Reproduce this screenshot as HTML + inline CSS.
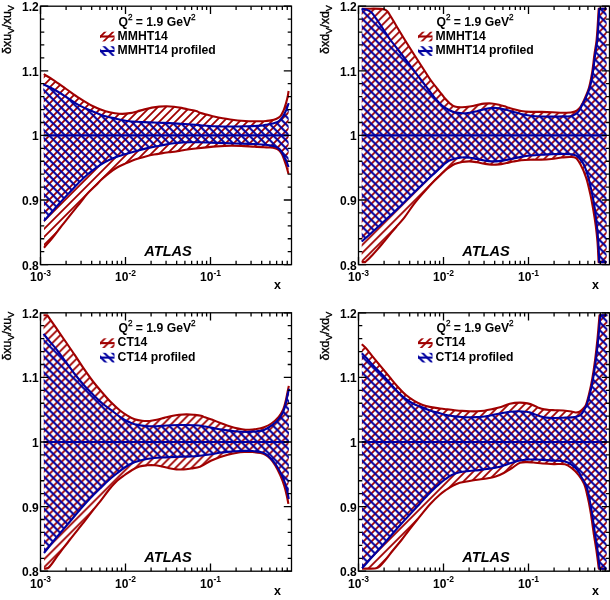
<!DOCTYPE html>
<html><head><meta charset="utf-8"><title>ATLAS PDF profiling</title><style>
html,body{margin:0;padding:0;background:#fff;}
body{width:610px;height:600px;overflow:hidden;}
svg{display:block;will-change:transform;}
text{font-family:"Liberation Sans",sans-serif;fill:#000;}
.tl{font-size:12px;font-weight:bold;}
.sup{font-size:8.5px;}
.sup2{font-size:8.2px;font-weight:normal;stroke:#000;stroke-width:0.3px;}
.lg{font-size:12.2px;font-weight:bold;}
.xt{font-size:12.5px;font-weight:bold;}
.yt{font-size:12.5px;stroke:#000;stroke-width:0.35px;}
.sub{font-size:9px;}
.atlas{font-size:14.6px;font-weight:bold;font-style:italic;}
</style></head><body>
<svg width="610" height="600" viewBox="0 0 610 600">
<rect width="610" height="600" fill="#fff"/>
<clipPath id="ca"><rect x="40.5" y="6.2" width="251" height="258.4"/></clipPath>
<pattern id="rha" patternUnits="userSpaceOnUse" width="8" height="8" x="1" y="0"><path d="M-2,2 L2,-2 M0,8 L8,0 M6,10 L10,6" stroke="#a00000" stroke-width="1.8"/></pattern>
<pattern id="bha" patternUnits="userSpaceOnUse" width="8" height="8" x="0" y="6.3"><path d="M-2,6 L2,10 M0,0 L8,8 M6,-2 L10,2" stroke="#0000a0" stroke-width="2.0"/></pattern>
<g clip-path="url(#ca)">
<path d="M43.75,74.20 C46.87,76.07 49.76,77.63 53.10,79.80 C57.14,82.43 61.83,85.93 66.20,89.00 C70.57,92.07 74.87,95.34 79.30,98.20 C83.64,101.00 88.02,103.79 92.50,106.00 C96.80,108.12 101.54,110.09 105.60,111.30 C108.94,112.30 112.04,112.75 115.00,113.17 C117.60,113.55 119.94,113.86 122.40,113.85 C124.84,113.84 127.27,113.52 129.70,113.12 C132.17,112.72 134.64,112.05 137.10,111.42 C139.57,110.80 142.03,110.01 144.50,109.38 C146.96,108.74 149.43,108.09 151.90,107.62 C154.33,107.16 156.75,106.80 159.20,106.58 C161.65,106.35 164.13,106.25 166.60,106.28 C169.07,106.30 171.54,106.46 174.00,106.73 C176.47,107.00 178.95,107.44 181.40,107.90 C183.85,108.36 186.26,108.98 188.70,109.50 C191.16,110.03 194.05,110.41 196.10,111.05 C197.63,111.53 198.47,112.15 200.00,112.68 C202.08,113.39 204.99,114.07 207.50,114.75 C210.02,115.44 212.57,116.18 215.10,116.78 C217.60,117.37 220.09,117.86 222.60,118.33 C225.12,118.79 227.67,119.19 230.20,119.55 C232.70,119.91 235.20,120.22 237.70,120.47 C240.20,120.72 242.69,120.91 245.20,121.05 C247.72,121.19 250.27,121.27 252.80,121.30 C255.31,121.33 257.97,121.30 260.30,121.22 C262.33,121.16 264.16,121.07 266.00,120.93 C267.72,120.78 269.35,120.70 271.00,120.38 C272.68,120.05 274.45,119.64 276.00,118.97 C277.51,118.33 279.01,117.71 280.20,116.50 C281.59,115.09 282.56,112.81 283.50,110.70 C284.52,108.41 285.28,105.64 286.00,103.20 C286.67,100.92 287.26,98.63 287.70,96.50 C288.10,94.59 288.30,92.83 288.60,91.00 L288.50,173.90 C287.87,171.60 287.30,169.29 286.60,167.00 C285.90,164.69 285.10,162.29 284.30,160.10 C283.56,158.07 282.96,156.02 282.00,154.30 C281.13,152.72 280.14,151.12 278.90,150.10 C277.77,149.18 276.43,148.71 275.00,148.28 C273.40,147.80 271.50,147.67 269.70,147.50 C267.84,147.33 265.99,147.38 264.00,147.28 C261.81,147.16 259.76,147.00 257.10,146.85 C253.47,146.64 248.49,146.35 244.20,146.17 C239.93,146.00 235.81,145.75 231.40,145.77 C226.67,145.81 221.87,146.06 216.70,146.42 C210.91,146.84 204.15,147.57 198.30,148.22 C192.96,148.83 187.09,149.54 183.00,150.18 C180.24,150.60 178.45,151.07 176.10,151.43 C173.68,151.79 171.16,152.00 168.70,152.33 C166.26,152.65 163.84,152.98 161.40,153.35 C158.94,153.73 156.46,154.11 154.00,154.57 C151.53,155.05 149.06,155.56 146.60,156.18 C144.12,156.80 141.65,157.53 139.20,158.30 C136.75,159.07 134.32,159.86 131.90,160.80 C129.42,161.76 126.96,162.89 124.50,164.00 C122.02,165.12 119.51,166.11 117.10,167.50 C114.57,168.96 112.11,170.75 109.70,172.60 C107.21,174.51 104.78,176.60 102.40,178.80 C99.94,181.06 97.64,183.57 95.20,186.00 C92.68,188.50 90.00,190.82 87.50,193.60 C84.79,196.61 82.25,200.22 79.60,203.50 C76.95,206.78 74.25,210.01 71.60,213.30 C68.95,216.61 65.84,220.59 63.70,223.30 C62.23,225.16 61.43,226.16 60.00,228.00 C57.97,230.61 55.28,234.30 52.70,237.50 C49.96,240.90 46.90,244.37 44.00,247.80 Z" fill="url(#rha)" stroke="none"/>
<path d="M43.75,74.20 C46.87,76.07 49.76,77.63 53.10,79.80 C57.14,82.43 61.83,85.93 66.20,89.00 C70.57,92.07 74.87,95.34 79.30,98.20 C83.64,101.00 88.02,103.79 92.50,106.00 C96.80,108.12 101.54,110.09 105.60,111.30 C108.94,112.30 112.04,112.75 115.00,113.17 C117.60,113.55 119.94,113.86 122.40,113.85 C124.84,113.84 127.27,113.52 129.70,113.12 C132.17,112.72 134.64,112.05 137.10,111.42 C139.57,110.80 142.03,110.01 144.50,109.38 C146.96,108.74 149.43,108.09 151.90,107.62 C154.33,107.16 156.75,106.80 159.20,106.58 C161.65,106.35 164.13,106.25 166.60,106.28 C169.07,106.30 171.54,106.46 174.00,106.73 C176.47,107.00 178.95,107.44 181.40,107.90 C183.85,108.36 186.26,108.98 188.70,109.50 C191.16,110.03 194.05,110.41 196.10,111.05 C197.63,111.53 198.47,112.15 200.00,112.68 C202.08,113.39 204.99,114.07 207.50,114.75 C210.02,115.44 212.57,116.18 215.10,116.78 C217.60,117.37 220.09,117.86 222.60,118.33 C225.12,118.79 227.67,119.19 230.20,119.55 C232.70,119.91 235.20,120.22 237.70,120.47 C240.20,120.72 242.69,120.91 245.20,121.05 C247.72,121.19 250.27,121.27 252.80,121.30 C255.31,121.33 257.97,121.30 260.30,121.22 C262.33,121.16 264.16,121.07 266.00,120.93 C267.72,120.78 269.35,120.70 271.00,120.38 C272.68,120.05 274.45,119.64 276.00,118.97 C277.51,118.33 279.01,117.71 280.20,116.50 C281.59,115.09 282.56,112.81 283.50,110.70 C284.52,108.41 285.28,105.64 286.00,103.20 C286.67,100.92 287.26,98.63 287.70,96.50 C288.10,94.59 288.30,92.83 288.60,91.00" fill="none" stroke="#a00000" stroke-width="2.1" stroke-linejoin="round"/>
<path d="M44.00,247.80 C46.90,244.37 49.96,240.90 52.70,237.50 C55.28,234.30 57.97,230.61 60.00,228.00 C61.43,226.16 62.23,225.16 63.70,223.30 C65.84,220.59 68.95,216.61 71.60,213.30 C74.25,210.01 76.95,206.78 79.60,203.50 C82.25,200.22 84.79,196.61 87.50,193.60 C90.00,190.82 92.68,188.50 95.20,186.00 C97.64,183.57 99.94,181.06 102.40,178.80 C104.78,176.60 107.21,174.51 109.70,172.60 C112.11,170.75 114.57,168.96 117.10,167.50 C119.51,166.11 122.02,165.12 124.50,164.00 C126.96,162.89 129.42,161.76 131.90,160.80 C134.32,159.86 136.75,159.07 139.20,158.30 C141.65,157.53 144.12,156.80 146.60,156.18 C149.06,155.56 151.53,155.05 154.00,154.57 C156.46,154.11 158.94,153.73 161.40,153.35 C163.84,152.98 166.26,152.65 168.70,152.33 C171.16,152.00 173.68,151.79 176.10,151.43 C178.45,151.07 180.24,150.60 183.00,150.18 C187.09,149.54 192.96,148.83 198.30,148.22 C204.15,147.57 210.91,146.84 216.70,146.42 C221.87,146.06 226.67,145.81 231.40,145.77 C235.81,145.75 239.93,146.00 244.20,146.17 C248.49,146.35 253.47,146.64 257.10,146.85 C259.76,147.00 261.81,147.16 264.00,147.28 C265.99,147.38 267.84,147.33 269.70,147.50 C271.50,147.67 273.40,147.80 275.00,148.28 C276.43,148.71 277.77,149.18 278.90,150.10 C280.14,151.12 281.13,152.72 282.00,154.30 C282.96,156.02 283.56,158.07 284.30,160.10 C285.10,162.29 285.90,164.69 286.60,167.00 C287.30,169.29 287.87,171.60 288.50,173.90" fill="none" stroke="#a00000" stroke-width="2.1" stroke-linejoin="round"/>
<path d="M43.25,84.20 C46.53,85.80 49.63,87.11 53.10,89.00 C57.20,91.23 61.86,94.18 66.20,96.90 C70.59,99.65 74.83,102.97 79.30,105.40 C83.60,107.74 88.08,109.47 92.50,111.30 C96.85,113.10 101.55,115.08 105.60,116.30 C108.95,117.31 112.05,117.75 115.00,118.40 C117.61,118.98 119.94,119.55 122.40,120.02 C124.84,120.50 126.83,120.92 129.70,121.25 C133.76,121.71 139.57,121.90 144.50,122.15 C149.41,122.40 154.29,122.55 159.20,122.75 C164.13,122.95 169.08,123.11 174.00,123.38 C178.91,123.64 183.92,123.97 188.70,124.32 C193.25,124.66 197.58,125.12 202.00,125.45 C206.38,125.77 210.58,126.09 215.10,126.27 C219.95,126.47 225.18,126.55 230.20,126.55 C235.21,126.55 240.19,126.43 245.20,126.28 C250.23,126.12 256.48,125.99 260.30,125.60 C262.66,125.36 264.03,125.04 266.00,124.70 C268.15,124.33 270.64,123.98 272.70,123.47 C274.50,123.03 276.20,122.76 277.70,121.90 C279.24,121.02 280.60,119.69 281.80,118.20 C283.14,116.55 284.27,114.22 285.20,112.30 C286.03,110.59 286.59,108.89 287.20,107.30 C287.75,105.87 288.20,104.57 288.70,103.20 L288.50,167.00 C287.87,165.20 287.32,163.31 286.60,161.60 C285.91,159.98 285.07,158.53 284.30,157.00 C283.53,155.47 282.91,153.81 282.00,152.40 C281.11,151.02 280.11,149.57 278.90,148.60 C277.76,147.68 276.43,147.15 275.00,146.62 C273.40,146.04 271.64,145.70 269.70,145.38 C267.38,144.99 264.64,144.83 262.00,144.60 C259.21,144.35 256.81,144.13 253.40,143.95 C248.42,143.69 241.12,143.61 235.00,143.43 C228.89,143.24 222.81,143.04 216.70,142.85 C210.58,142.66 204.15,142.38 198.30,142.30 C192.97,142.23 187.09,142.14 183.00,142.35 C180.24,142.49 178.44,142.77 176.10,143.05 C173.67,143.34 171.15,143.64 168.70,144.05 C166.25,144.46 164.11,144.98 161.40,145.50 C158.02,146.15 153.87,146.76 150.00,147.60 C145.92,148.48 141.66,149.59 137.50,150.70 C133.32,151.82 128.92,153.09 125.00,154.30 C121.47,155.39 118.30,156.30 115.00,157.60 C111.63,158.93 108.27,160.41 105.00,162.20 C101.60,164.06 98.05,166.43 95.00,168.60 C92.27,170.54 89.96,172.39 87.50,174.50 C84.95,176.68 82.64,178.89 80.00,181.50 C76.86,184.61 73.33,188.48 70.00,192.00 C66.66,195.54 63.13,199.27 60.00,202.70 C57.16,205.81 54.66,208.68 52.00,211.70 C49.33,214.74 46.67,217.83 44.00,220.90 Z" fill="url(#bha)" stroke="none"/>
<path d="M43.25,84.20 C46.53,85.80 49.63,87.11 53.10,89.00 C57.20,91.23 61.86,94.18 66.20,96.90 C70.59,99.65 74.83,102.97 79.30,105.40 C83.60,107.74 88.08,109.47 92.50,111.30 C96.85,113.10 101.55,115.08 105.60,116.30 C108.95,117.31 112.05,117.75 115.00,118.40 C117.61,118.98 119.94,119.55 122.40,120.02 C124.84,120.50 126.83,120.92 129.70,121.25 C133.76,121.71 139.57,121.90 144.50,122.15 C149.41,122.40 154.29,122.55 159.20,122.75 C164.13,122.95 169.08,123.11 174.00,123.38 C178.91,123.64 183.92,123.97 188.70,124.32 C193.25,124.66 197.58,125.12 202.00,125.45 C206.38,125.77 210.58,126.09 215.10,126.27 C219.95,126.47 225.18,126.55 230.20,126.55 C235.21,126.55 240.19,126.43 245.20,126.28 C250.23,126.12 256.48,125.99 260.30,125.60 C262.66,125.36 264.03,125.04 266.00,124.70 C268.15,124.33 270.64,123.98 272.70,123.47 C274.50,123.03 276.20,122.76 277.70,121.90 C279.24,121.02 280.60,119.69 281.80,118.20 C283.14,116.55 284.27,114.22 285.20,112.30 C286.03,110.59 286.59,108.89 287.20,107.30 C287.75,105.87 288.20,104.57 288.70,103.20" fill="none" stroke="#0000a0" stroke-width="2.1" stroke-linejoin="round"/>
<path d="M44.00,220.90 C46.67,217.83 49.33,214.74 52.00,211.70 C54.66,208.68 57.16,205.81 60.00,202.70 C63.13,199.27 66.66,195.54 70.00,192.00 C73.33,188.48 76.86,184.61 80.00,181.50 C82.64,178.89 84.95,176.68 87.50,174.50 C89.96,172.39 92.27,170.54 95.00,168.60 C98.05,166.43 101.60,164.06 105.00,162.20 C108.27,160.41 111.63,158.93 115.00,157.60 C118.30,156.30 121.47,155.39 125.00,154.30 C128.92,153.09 133.32,151.82 137.50,150.70 C141.66,149.59 145.92,148.48 150.00,147.60 C153.87,146.76 158.02,146.15 161.40,145.50 C164.11,144.98 166.25,144.46 168.70,144.05 C171.15,143.64 173.67,143.34 176.10,143.05 C178.44,142.77 180.24,142.49 183.00,142.35 C187.09,142.14 192.97,142.23 198.30,142.30 C204.15,142.38 210.58,142.66 216.70,142.85 C222.81,143.04 228.89,143.24 235.00,143.43 C241.12,143.61 248.42,143.69 253.40,143.95 C256.81,144.13 259.21,144.35 262.00,144.60 C264.64,144.83 267.38,144.99 269.70,145.38 C271.64,145.70 273.40,146.04 275.00,146.62 C276.43,147.15 277.76,147.68 278.90,148.60 C280.11,149.57 281.11,151.02 282.00,152.40 C282.91,153.81 283.53,155.47 284.30,157.00 C285.07,158.53 285.91,159.98 286.60,161.60 C287.32,163.31 287.87,165.20 288.50,167.00" fill="none" stroke="#0000a0" stroke-width="2.1" stroke-linejoin="round"/>
<line x1="43.75" y1="135.4" x2="288.6" y2="135.4" stroke="#0000a0" stroke-width="2.1"/>
</g>
<path d="M40.5,264.6 h7.7 M291.5,264.6 h-7.7 M40.5,251.68 h3.8 M291.5,251.68 h-3.8 M40.5,238.76 h3.8 M291.5,238.76 h-3.8 M40.5,225.84 h3.8 M291.5,225.84 h-3.8 M40.5,212.92 h3.8 M291.5,212.92 h-3.8 M40.5,200 h7.7 M291.5,200 h-7.7 M40.5,187.08 h3.8 M291.5,187.08 h-3.8 M40.5,174.16 h3.8 M291.5,174.16 h-3.8 M40.5,161.24 h3.8 M291.5,161.24 h-3.8 M40.5,148.32 h3.8 M291.5,148.32 h-3.8 M40.5,135.4 h7.7 M291.5,135.4 h-7.7 M40.5,122.48 h3.8 M291.5,122.48 h-3.8 M40.5,109.56 h3.8 M291.5,109.56 h-3.8 M40.5,96.64 h3.8 M291.5,96.64 h-3.8 M40.5,83.72 h3.8 M291.5,83.72 h-3.8 M40.5,70.8 h7.7 M291.5,70.8 h-7.7 M40.5,57.88 h3.8 M291.5,57.88 h-3.8 M40.5,44.96 h3.8 M291.5,44.96 h-3.8 M40.5,32.04 h3.8 M291.5,32.04 h-3.8 M40.5,19.12 h3.8 M291.5,19.12 h-3.8 M40.5,6.2 h7.7 M291.5,6.2 h-7.7 M40.5,264.6 v-7.7 M40.5,6.2 v7.7 M66.09,264.6 v-3.8 M66.09,6.2 v3.8 M81.06,264.6 v-3.8 M81.06,6.2 v3.8 M91.68,264.6 v-3.8 M91.68,6.2 v3.8 M99.91,264.6 v-3.8 M99.91,6.2 v3.8 M106.64,264.6 v-3.8 M106.64,6.2 v3.8 M112.33,264.6 v-3.8 M112.33,6.2 v3.8 M117.26,264.6 v-3.8 M117.26,6.2 v3.8 M121.61,264.6 v-3.8 M121.61,6.2 v3.8 M125.5,264.6 v-7.7 M125.5,6.2 v7.7 M151.09,264.6 v-3.8 M151.09,6.2 v3.8 M166.06,264.6 v-3.8 M166.06,6.2 v3.8 M176.68,264.6 v-3.8 M176.68,6.2 v3.8 M184.91,264.6 v-3.8 M184.91,6.2 v3.8 M191.64,264.6 v-3.8 M191.64,6.2 v3.8 M197.33,264.6 v-3.8 M197.33,6.2 v3.8 M202.26,264.6 v-3.8 M202.26,6.2 v3.8 M206.61,264.6 v-3.8 M206.61,6.2 v3.8 M210.5,264.6 v-7.7 M210.5,6.2 v7.7 M236.09,264.6 v-3.8 M236.09,6.2 v3.8 M251.06,264.6 v-3.8 M251.06,6.2 v3.8 M261.68,264.6 v-3.8 M261.68,6.2 v3.8 M269.91,264.6 v-3.8 M269.91,6.2 v3.8 M276.64,264.6 v-3.8 M276.64,6.2 v3.8 M282.33,264.6 v-3.8 M282.33,6.2 v3.8 M287.26,264.6 v-3.8 M287.26,6.2 v3.8" stroke="#000" stroke-width="1.3" fill="none"/>
<rect x="40.5" y="6.2" width="251" height="258.4" fill="none" stroke="#000" stroke-width="1.3"/>
<text x="38.7" y="269.5" class="tl" text-anchor="end">0.8</text>
<text x="38.7" y="204.9" class="tl" text-anchor="end">0.9</text>
<text x="38.7" y="140.3" class="tl" text-anchor="end">1</text>
<text x="38.7" y="75.7" class="tl" text-anchor="end">1.1</text>
<text x="38.7" y="11.1" class="tl" text-anchor="end">1.2</text>
<text x="40.5" y="281.1" class="tl" text-anchor="middle">10<tspan class="sup" dy="-5.5">-3</tspan></text>
<text x="125.5" y="281.1" class="tl" text-anchor="middle">10<tspan class="sup" dy="-5.5">-2</tspan></text>
<text x="210.5" y="281.1" class="tl" text-anchor="middle">10<tspan class="sup" dy="-5.5">-1</tspan></text>
<text x="274" y="288.8" class="xt">x</text>
<text class="yt" transform="translate(10.6,54) rotate(-90)">&#948;xu<tspan class="sub" dy="3.2">V</tspan><tspan dy="-3.2">/xu</tspan><tspan class="sub" dy="3.2">V</tspan></text>
<text x="118.4" y="25.6" class="lg">Q<tspan class="sup2" dy="-5.9">2</tspan><tspan dy="5.9"> = 1.9 GeV</tspan><tspan class="sup2" dy="-5.9">2</tspan></text>
<text x="117.6" y="39.6" class="lg">MMHT14</text>
<text x="117.6" y="54" class="lg">MMHT14 profiled</text>
<clipPath id="lra"><rect x="100" y="31.7" width="14.5" height="9.7"/></clipPath>
<rect x="100" y="31.7" width="14.5" height="9.7" fill="url(#rha)" />
<line x1="100" y1="36.5" x2="114.5" y2="36.5" stroke="#a00000" stroke-width="2.1"/>
<rect x="100" y="46.2" width="14.5" height="9.7" fill="url(#bha)" />
<line x1="100" y1="51" x2="114.5" y2="51" stroke="#0000a0" stroke-width="2.1"/>
<text x="144.3" y="255.7" class="atlas">ATLAS</text>
<clipPath id="cb"><rect x="358.5" y="6.2" width="251" height="258.4"/></clipPath>
<pattern id="rhb" patternUnits="userSpaceOnUse" width="8" height="8" x="7.2" y="0"><path d="M-2,2 L2,-2 M0,8 L8,0 M6,10 L10,6" stroke="#a00000" stroke-width="1.8"/></pattern>
<pattern id="bhb" patternUnits="userSpaceOnUse" width="8" height="8" x="0" y="0.5"><path d="M-2,6 L2,10 M0,0 L8,8 M6,-2 L10,2" stroke="#0000a0" stroke-width="2.0"/></pattern>
<g clip-path="url(#cb)">
<path d="M361.70,8.70 C369.30,8.93 380.54,8.09 384.50,9.40 C386.09,9.93 386.62,10.59 387.50,11.50 C388.48,12.51 389.15,13.96 390.00,15.30 C390.94,16.78 391.77,18.13 392.90,20.00 C394.53,22.70 396.80,26.67 398.80,30.00 C400.80,33.34 402.84,36.67 404.90,40.00 C406.97,43.34 409.09,46.67 411.20,50.00 C413.32,53.34 415.45,56.67 417.60,60.00 C419.75,63.34 421.93,66.67 424.10,70.00 C426.27,73.33 428.34,76.80 430.60,80.00 C432.81,83.12 435.50,86.45 437.50,89.00 C439.00,90.92 440.26,92.42 441.50,94.00 C442.60,95.40 443.38,96.60 444.60,98.00 C446.11,99.73 448.18,102.00 450.00,103.50 C451.55,104.78 452.86,105.97 454.70,106.60 C456.81,107.33 459.63,107.20 462.10,107.20 C464.57,107.20 467.04,106.93 469.50,106.58 C471.98,106.21 474.44,105.51 476.90,105.03 C479.34,104.54 481.75,103.92 484.20,103.65 C486.65,103.38 489.14,103.26 491.60,103.43 C494.07,103.59 496.55,104.08 499.00,104.65 C501.49,105.23 503.95,106.12 506.40,106.90 C508.85,107.67 511.24,108.60 513.70,109.30 C516.14,109.99 518.45,110.65 521.10,111.08 C524.10,111.55 527.47,111.71 530.80,111.85 C534.32,112.00 538.08,111.85 541.70,111.92 C545.31,112.00 548.90,112.13 552.50,112.28 C556.10,112.42 559.89,112.79 563.30,112.77 C566.36,112.76 569.57,112.77 572.00,112.30 C573.83,111.94 575.29,111.60 576.70,110.70 C578.22,109.73 579.47,108.23 580.70,106.50 C582.23,104.35 583.50,101.38 584.80,98.50 C586.25,95.27 587.76,91.80 588.90,88.00 C590.19,83.72 591.02,79.10 591.90,74.00 C592.94,67.95 593.65,60.07 594.50,54.00 C595.21,48.91 595.99,45.61 596.60,40.00 C597.50,31.65 598.00,19.13 598.70,8.70 L606.60,8.70 L606.60,262.10 L598.60,262.10 C598.23,255.40 598.01,248.31 597.50,242.00 C597.05,236.36 596.48,231.24 595.80,226.00 C595.14,220.91 594.37,216.10 593.50,211.00 C592.58,205.65 591.60,200.08 590.40,194.60 C589.18,189.02 587.91,182.94 586.20,177.80 C584.68,173.24 582.87,168.74 580.90,165.20 C579.30,162.33 577.74,159.19 575.70,157.90 C574.12,156.90 572.38,157.08 570.40,156.97 C567.93,156.84 564.95,157.23 562.00,157.53 C558.69,157.86 555.01,158.60 551.50,158.95 C548.01,159.30 544.50,159.53 541.00,159.65 C537.50,159.77 533.90,159.59 530.50,159.70 C527.28,159.81 524.04,159.95 521.10,160.27 C518.48,160.57 516.15,161.02 513.70,161.48 C511.25,161.93 508.84,162.51 506.40,163.00 C503.94,163.49 501.48,164.11 499.00,164.40 C496.54,164.68 494.06,164.83 491.60,164.73 C489.13,164.62 486.65,164.16 484.20,163.75 C481.75,163.34 479.35,162.65 476.90,162.25 C474.45,161.85 471.97,161.40 469.50,161.35 C467.04,161.30 464.55,161.54 462.10,161.97 C459.61,162.42 456.96,163.01 454.70,164.00 C452.55,164.95 450.59,166.42 448.80,167.70 C447.19,168.86 445.85,170.04 444.40,171.30 C442.91,172.60 441.62,173.87 440.00,175.40 C437.97,177.31 435.61,179.42 433.20,181.90 C430.22,184.96 426.77,188.85 423.60,192.50 C420.34,196.25 417.05,200.02 413.90,204.10 C410.61,208.37 407.48,213.55 404.30,217.60 C401.52,221.14 398.29,224.51 396.00,227.20 C394.36,229.13 393.38,230.30 391.80,232.20 C389.74,234.68 387.08,237.94 384.70,240.80 C382.31,243.67 379.93,246.62 377.50,249.40 C375.13,252.11 372.52,255.02 370.30,257.30 C368.51,259.13 366.97,260.50 365.30,262.10 L361.70,262.10 Z" fill="url(#rhb)" stroke="none"/>
<path d="M361.70,8.70 C369.30,8.93 380.54,8.09 384.50,9.40 C386.09,9.93 386.62,10.59 387.50,11.50 C388.48,12.51 389.15,13.96 390.00,15.30 C390.94,16.78 391.77,18.13 392.90,20.00 C394.53,22.70 396.80,26.67 398.80,30.00 C400.80,33.34 402.84,36.67 404.90,40.00 C406.97,43.34 409.09,46.67 411.20,50.00 C413.32,53.34 415.45,56.67 417.60,60.00 C419.75,63.34 421.93,66.67 424.10,70.00 C426.27,73.33 428.34,76.80 430.60,80.00 C432.81,83.12 435.50,86.45 437.50,89.00 C439.00,90.92 440.26,92.42 441.50,94.00 C442.60,95.40 443.38,96.60 444.60,98.00 C446.11,99.73 448.18,102.00 450.00,103.50 C451.55,104.78 452.86,105.97 454.70,106.60 C456.81,107.33 459.63,107.20 462.10,107.20 C464.57,107.20 467.04,106.93 469.50,106.58 C471.98,106.21 474.44,105.51 476.90,105.03 C479.34,104.54 481.75,103.92 484.20,103.65 C486.65,103.38 489.14,103.26 491.60,103.43 C494.07,103.59 496.55,104.08 499.00,104.65 C501.49,105.23 503.95,106.12 506.40,106.90 C508.85,107.67 511.24,108.60 513.70,109.30 C516.14,109.99 518.45,110.65 521.10,111.08 C524.10,111.55 527.47,111.71 530.80,111.85 C534.32,112.00 538.08,111.85 541.70,111.92 C545.31,112.00 548.90,112.13 552.50,112.28 C556.10,112.42 559.89,112.79 563.30,112.77 C566.36,112.76 569.57,112.77 572.00,112.30 C573.83,111.94 575.29,111.60 576.70,110.70 C578.22,109.73 579.47,108.23 580.70,106.50 C582.23,104.35 583.50,101.38 584.80,98.50 C586.25,95.27 587.76,91.80 588.90,88.00 C590.19,83.72 591.02,79.10 591.90,74.00 C592.94,67.95 593.65,60.07 594.50,54.00 C595.21,48.91 595.99,45.61 596.60,40.00 C597.50,31.65 598.00,19.13 598.70,8.70 L606.60,8.70" fill="none" stroke="#a00000" stroke-width="2.1" stroke-linejoin="round"/>
<path d="M361.70,262.10 L365.30,262.10 C366.97,260.50 368.51,259.13 370.30,257.30 C372.52,255.02 375.13,252.11 377.50,249.40 C379.93,246.62 382.31,243.67 384.70,240.80 C387.08,237.94 389.74,234.68 391.80,232.20 C393.38,230.30 394.36,229.13 396.00,227.20 C398.29,224.51 401.52,221.14 404.30,217.60 C407.48,213.55 410.61,208.37 413.90,204.10 C417.05,200.02 420.34,196.25 423.60,192.50 C426.77,188.85 430.22,184.96 433.20,181.90 C435.61,179.42 437.97,177.31 440.00,175.40 C441.62,173.87 442.91,172.60 444.40,171.30 C445.85,170.04 447.19,168.86 448.80,167.70 C450.59,166.42 452.55,164.95 454.70,164.00 C456.96,163.01 459.61,162.42 462.10,161.97 C464.55,161.54 467.04,161.30 469.50,161.35 C471.97,161.40 474.45,161.85 476.90,162.25 C479.35,162.65 481.75,163.34 484.20,163.75 C486.65,164.16 489.13,164.62 491.60,164.73 C494.06,164.83 496.54,164.68 499.00,164.40 C501.48,164.11 503.94,163.49 506.40,163.00 C508.84,162.51 511.25,161.93 513.70,161.48 C516.15,161.02 518.48,160.57 521.10,160.27 C524.04,159.95 527.28,159.81 530.50,159.70 C533.90,159.59 537.50,159.77 541.00,159.65 C544.50,159.53 548.01,159.30 551.50,158.95 C555.01,158.60 558.69,157.86 562.00,157.53 C564.95,157.23 567.93,156.84 570.40,156.97 C572.38,157.08 574.12,156.90 575.70,157.90 C577.74,159.19 579.30,162.33 580.90,165.20 C582.87,168.74 584.68,173.24 586.20,177.80 C587.91,182.94 589.18,189.02 590.40,194.60 C591.60,200.08 592.58,205.65 593.50,211.00 C594.37,216.10 595.14,220.91 595.80,226.00 C596.48,231.24 597.05,236.36 597.50,242.00 C598.01,248.31 598.23,255.40 598.60,262.10 L606.60,262.10" fill="none" stroke="#a00000" stroke-width="2.1" stroke-linejoin="round"/>
<path d="M361.70,8.70 C363.37,9.07 365.14,9.28 366.70,9.82 C368.17,10.34 369.53,10.80 370.80,11.80 C372.31,12.99 373.77,15.30 374.90,16.80 C375.78,17.96 376.17,18.63 377.10,20.00 C378.73,22.41 381.57,26.67 383.80,30.00 C386.03,33.33 388.12,36.71 390.50,40.00 C392.94,43.38 395.71,46.66 398.30,50.00 C400.88,53.33 403.46,56.66 406.00,60.00 C408.53,63.33 410.99,66.67 413.50,70.00 C416.02,73.34 418.62,76.76 421.10,80.00 C423.45,83.08 425.71,86.00 428.00,89.00 C430.28,92.00 432.41,95.20 434.80,98.00 C437.09,100.69 439.40,103.38 442.00,105.50 C444.48,107.52 447.64,109.30 450.00,110.50 C451.73,111.38 452.92,111.92 454.70,112.38 C456.86,112.93 459.63,113.24 462.10,113.30 C464.56,113.36 467.05,113.10 469.50,112.75 C471.98,112.39 474.45,111.73 476.90,111.15 C479.35,110.57 481.75,109.80 484.20,109.28 C486.65,108.75 489.12,108.17 491.60,108.00 C494.06,107.83 496.55,107.92 499.00,108.23 C501.48,108.53 503.95,109.24 506.40,109.85 C508.85,110.46 511.26,111.22 513.70,111.90 C516.16,112.59 518.45,113.35 521.10,113.95 C524.10,114.63 527.46,115.28 530.80,115.70 C534.32,116.14 538.07,116.35 541.70,116.50 C545.31,116.65 548.90,116.61 552.50,116.60 C556.10,116.59 559.90,116.56 563.30,116.42 C566.36,116.31 569.41,116.76 572.00,115.90 C574.45,115.08 576.82,113.42 578.50,111.60 C580.12,109.85 580.82,107.54 582.00,105.30 C583.32,102.81 584.74,100.19 586.00,97.30 C587.42,94.05 588.91,90.49 590.00,86.70 C591.20,82.54 591.88,78.23 592.70,73.30 C593.69,67.31 594.46,59.29 595.30,53.30 C595.99,48.41 596.72,45.38 597.30,40.00 C598.18,31.78 598.63,19.13 599.30,8.70 L606.60,8.70 L606.60,262.10 L599.30,262.10 C598.93,254.73 598.69,246.77 598.20,240.00 C597.79,234.23 597.29,229.37 596.70,224.00 C596.10,218.54 595.47,213.04 594.60,207.50 C593.71,201.84 592.64,196.06 591.40,190.40 C590.17,184.76 588.78,178.50 587.20,173.60 C585.92,169.64 584.85,166.15 583.00,163.10 C581.29,160.28 579.05,157.25 576.70,155.80 C574.77,154.61 572.67,154.56 570.40,154.22 C567.82,153.85 564.96,153.86 562.00,153.85 C558.70,153.84 555.00,154.11 551.50,154.25 C548.00,154.39 544.50,154.50 541.00,154.70 C537.50,154.90 533.90,155.10 530.50,155.47 C527.27,155.83 524.04,156.35 521.10,156.88 C518.48,157.34 516.16,157.92 513.70,158.43 C511.26,158.93 508.85,159.45 506.40,159.90 C503.95,160.35 501.47,160.86 499.00,161.10 C496.54,161.34 494.06,161.46 491.60,161.35 C489.13,161.24 486.65,160.85 484.20,160.45 C481.75,160.05 479.35,159.41 476.90,158.95 C474.45,158.49 471.98,157.92 469.50,157.68 C467.04,157.43 464.56,157.29 462.10,157.45 C459.63,157.61 457.00,158.05 454.70,158.65 C452.59,159.20 450.56,159.86 448.80,160.80 C447.16,161.67 445.82,162.80 444.40,164.00 C442.89,165.28 441.66,166.76 440.00,168.30 C437.96,170.20 435.40,172.33 433.00,174.50 C430.41,176.84 427.95,179.11 425.00,181.90 C421.28,185.42 416.65,189.92 412.50,194.00 C408.32,198.12 404.40,202.25 400.00,206.50 C395.27,211.07 390.01,215.87 385.00,220.50 C380.01,225.10 374.28,230.36 370.00,234.20 C366.84,237.03 364.47,239.07 361.70,241.50 Z" fill="url(#bhb)" stroke="none"/>
<path d="M361.70,8.70 C363.37,9.07 365.14,9.28 366.70,9.82 C368.17,10.34 369.53,10.80 370.80,11.80 C372.31,12.99 373.77,15.30 374.90,16.80 C375.78,17.96 376.17,18.63 377.10,20.00 C378.73,22.41 381.57,26.67 383.80,30.00 C386.03,33.33 388.12,36.71 390.50,40.00 C392.94,43.38 395.71,46.66 398.30,50.00 C400.88,53.33 403.46,56.66 406.00,60.00 C408.53,63.33 410.99,66.67 413.50,70.00 C416.02,73.34 418.62,76.76 421.10,80.00 C423.45,83.08 425.71,86.00 428.00,89.00 C430.28,92.00 432.41,95.20 434.80,98.00 C437.09,100.69 439.40,103.38 442.00,105.50 C444.48,107.52 447.64,109.30 450.00,110.50 C451.73,111.38 452.92,111.92 454.70,112.38 C456.86,112.93 459.63,113.24 462.10,113.30 C464.56,113.36 467.05,113.10 469.50,112.75 C471.98,112.39 474.45,111.73 476.90,111.15 C479.35,110.57 481.75,109.80 484.20,109.28 C486.65,108.75 489.12,108.17 491.60,108.00 C494.06,107.83 496.55,107.92 499.00,108.23 C501.48,108.53 503.95,109.24 506.40,109.85 C508.85,110.46 511.26,111.22 513.70,111.90 C516.16,112.59 518.45,113.35 521.10,113.95 C524.10,114.63 527.46,115.28 530.80,115.70 C534.32,116.14 538.07,116.35 541.70,116.50 C545.31,116.65 548.90,116.61 552.50,116.60 C556.10,116.59 559.90,116.56 563.30,116.42 C566.36,116.31 569.41,116.76 572.00,115.90 C574.45,115.08 576.82,113.42 578.50,111.60 C580.12,109.85 580.82,107.54 582.00,105.30 C583.32,102.81 584.74,100.19 586.00,97.30 C587.42,94.05 588.91,90.49 590.00,86.70 C591.20,82.54 591.88,78.23 592.70,73.30 C593.69,67.31 594.46,59.29 595.30,53.30 C595.99,48.41 596.72,45.38 597.30,40.00 C598.18,31.78 598.63,19.13 599.30,8.70 L606.60,8.70" fill="none" stroke="#0000a0" stroke-width="2.1" stroke-linejoin="round"/>
<path d="M361.70,241.50 C364.47,239.07 366.84,237.03 370.00,234.20 C374.28,230.36 380.01,225.10 385.00,220.50 C390.01,215.87 395.27,211.07 400.00,206.50 C404.40,202.25 408.32,198.12 412.50,194.00 C416.65,189.92 421.28,185.42 425.00,181.90 C427.95,179.11 430.41,176.84 433.00,174.50 C435.40,172.33 437.96,170.20 440.00,168.30 C441.66,166.76 442.89,165.28 444.40,164.00 C445.82,162.80 447.16,161.67 448.80,160.80 C450.56,159.86 452.59,159.20 454.70,158.65 C457.00,158.05 459.63,157.61 462.10,157.45 C464.56,157.29 467.04,157.43 469.50,157.68 C471.98,157.92 474.45,158.49 476.90,158.95 C479.35,159.41 481.75,160.05 484.20,160.45 C486.65,160.85 489.13,161.24 491.60,161.35 C494.06,161.46 496.54,161.34 499.00,161.10 C501.47,160.86 503.95,160.35 506.40,159.90 C508.85,159.45 511.26,158.93 513.70,158.43 C516.16,157.92 518.48,157.34 521.10,156.88 C524.04,156.35 527.27,155.83 530.50,155.47 C533.90,155.10 537.50,154.90 541.00,154.70 C544.50,154.50 548.00,154.39 551.50,154.25 C555.00,154.11 558.70,153.84 562.00,153.85 C564.96,153.86 567.82,153.85 570.40,154.22 C572.67,154.56 574.77,154.61 576.70,155.80 C579.05,157.25 581.29,160.28 583.00,163.10 C584.85,166.15 585.92,169.64 587.20,173.60 C588.78,178.50 590.17,184.76 591.40,190.40 C592.64,196.06 593.71,201.84 594.60,207.50 C595.47,213.04 596.10,218.54 596.70,224.00 C597.29,229.37 597.79,234.23 598.20,240.00 C598.69,246.77 598.93,254.73 599.30,262.10 L606.60,262.10" fill="none" stroke="#0000a0" stroke-width="2.1" stroke-linejoin="round"/>
<line x1="361.7" y1="135.4" x2="606.6" y2="135.4" stroke="#0000a0" stroke-width="2.1"/>
</g>
<path d="M358.5,264.6 h7.7 M609.5,264.6 h-7.7 M358.5,251.68 h3.8 M609.5,251.68 h-3.8 M358.5,238.76 h3.8 M609.5,238.76 h-3.8 M358.5,225.84 h3.8 M609.5,225.84 h-3.8 M358.5,212.92 h3.8 M609.5,212.92 h-3.8 M358.5,200 h7.7 M609.5,200 h-7.7 M358.5,187.08 h3.8 M609.5,187.08 h-3.8 M358.5,174.16 h3.8 M609.5,174.16 h-3.8 M358.5,161.24 h3.8 M609.5,161.24 h-3.8 M358.5,148.32 h3.8 M609.5,148.32 h-3.8 M358.5,135.4 h7.7 M609.5,135.4 h-7.7 M358.5,122.48 h3.8 M609.5,122.48 h-3.8 M358.5,109.56 h3.8 M609.5,109.56 h-3.8 M358.5,96.64 h3.8 M609.5,96.64 h-3.8 M358.5,83.72 h3.8 M609.5,83.72 h-3.8 M358.5,70.8 h7.7 M609.5,70.8 h-7.7 M358.5,57.88 h3.8 M609.5,57.88 h-3.8 M358.5,44.96 h3.8 M609.5,44.96 h-3.8 M358.5,32.04 h3.8 M609.5,32.04 h-3.8 M358.5,19.12 h3.8 M609.5,19.12 h-3.8 M358.5,6.2 h7.7 M609.5,6.2 h-7.7 M358.5,264.6 v-7.7 M358.5,6.2 v7.7 M384.09,264.6 v-3.8 M384.09,6.2 v3.8 M399.06,264.6 v-3.8 M399.06,6.2 v3.8 M409.68,264.6 v-3.8 M409.68,6.2 v3.8 M417.91,264.6 v-3.8 M417.91,6.2 v3.8 M424.64,264.6 v-3.8 M424.64,6.2 v3.8 M430.33,264.6 v-3.8 M430.33,6.2 v3.8 M435.26,264.6 v-3.8 M435.26,6.2 v3.8 M439.61,264.6 v-3.8 M439.61,6.2 v3.8 M443.5,264.6 v-7.7 M443.5,6.2 v7.7 M469.09,264.6 v-3.8 M469.09,6.2 v3.8 M484.06,264.6 v-3.8 M484.06,6.2 v3.8 M494.68,264.6 v-3.8 M494.68,6.2 v3.8 M502.91,264.6 v-3.8 M502.91,6.2 v3.8 M509.64,264.6 v-3.8 M509.64,6.2 v3.8 M515.33,264.6 v-3.8 M515.33,6.2 v3.8 M520.26,264.6 v-3.8 M520.26,6.2 v3.8 M524.61,264.6 v-3.8 M524.61,6.2 v3.8 M528.5,264.6 v-7.7 M528.5,6.2 v7.7 M554.09,264.6 v-3.8 M554.09,6.2 v3.8 M569.06,264.6 v-3.8 M569.06,6.2 v3.8 M579.68,264.6 v-3.8 M579.68,6.2 v3.8 M587.91,264.6 v-3.8 M587.91,6.2 v3.8 M594.64,264.6 v-3.8 M594.64,6.2 v3.8 M600.33,264.6 v-3.8 M600.33,6.2 v3.8 M605.26,264.6 v-3.8 M605.26,6.2 v3.8" stroke="#000" stroke-width="1.3" fill="none"/>
<rect x="358.5" y="6.2" width="251" height="258.4" fill="none" stroke="#000" stroke-width="1.3"/>
<text x="356.7" y="269.5" class="tl" text-anchor="end">0.8</text>
<text x="356.7" y="204.9" class="tl" text-anchor="end">0.9</text>
<text x="356.7" y="140.3" class="tl" text-anchor="end">1</text>
<text x="356.7" y="75.7" class="tl" text-anchor="end">1.1</text>
<text x="356.7" y="11.1" class="tl" text-anchor="end">1.2</text>
<text x="358.5" y="281.1" class="tl" text-anchor="middle">10<tspan class="sup" dy="-5.5">-3</tspan></text>
<text x="443.5" y="281.1" class="tl" text-anchor="middle">10<tspan class="sup" dy="-5.5">-2</tspan></text>
<text x="528.5" y="281.1" class="tl" text-anchor="middle">10<tspan class="sup" dy="-5.5">-1</tspan></text>
<text x="592" y="288.8" class="xt">x</text>
<text class="yt" transform="translate(328.6,54) rotate(-90)">&#948;xd<tspan class="sub" dy="3.2">V</tspan><tspan dy="-3.2">/xd</tspan><tspan class="sub" dy="3.2">V</tspan></text>
<text x="436.4" y="25.6" class="lg">Q<tspan class="sup2" dy="-5.9">2</tspan><tspan dy="5.9"> = 1.9 GeV</tspan><tspan class="sup2" dy="-5.9">2</tspan></text>
<text x="435.6" y="39.6" class="lg">MMHT14</text>
<text x="435.6" y="54" class="lg">MMHT14 profiled</text>
<clipPath id="lrb"><rect x="418" y="31.7" width="14.5" height="9.7"/></clipPath>
<rect x="418" y="31.7" width="14.5" height="9.7" fill="url(#rhb)" />
<line x1="418" y1="36.5" x2="432.5" y2="36.5" stroke="#a00000" stroke-width="2.1"/>
<rect x="418" y="46.2" width="14.5" height="9.7" fill="url(#bhb)" />
<line x1="418" y1="51" x2="432.5" y2="51" stroke="#0000a0" stroke-width="2.1"/>
<text x="462.3" y="255.7" class="atlas">ATLAS</text>
<clipPath id="cc"><rect x="40.5" y="312.8" width="251" height="258.4"/></clipPath>
<pattern id="rhc" patternUnits="userSpaceOnUse" width="8" height="8" x="3.4" y="0"><path d="M-2,2 L2,-2 M0,8 L8,0 M6,10 L10,6" stroke="#a00000" stroke-width="1.8"/></pattern>
<pattern id="bhc" patternUnits="userSpaceOnUse" width="8" height="8" x="0" y="0.6"><path d="M-2,6 L2,10 M0,0 L8,8 M6,-2 L10,2" stroke="#0000a0" stroke-width="2.0"/></pattern>
<g clip-path="url(#cc)">
<path d="M43.50,315.30 L47.40,315.30 C50.37,319.60 53.31,323.87 56.30,328.20 C59.34,332.60 62.44,337.06 65.50,341.50 C68.57,345.96 71.66,350.39 74.70,354.90 C77.76,359.45 80.71,364.22 83.80,368.70 C86.82,373.08 89.86,377.45 93.00,381.50 C96.00,385.36 99.11,388.94 102.20,392.50 C105.21,395.97 108.22,399.51 111.30,402.60 C114.16,405.47 117.14,408.23 120.00,410.50 C122.50,412.48 124.89,414.11 127.40,415.60 C129.79,417.02 132.20,418.43 134.70,419.30 C137.10,420.14 139.62,420.53 142.10,420.80 C144.55,421.07 147.04,421.11 149.50,420.93 C151.97,420.74 154.45,420.21 156.90,419.70 C159.35,419.19 161.76,418.48 164.20,417.88 C166.66,417.27 169.12,416.58 171.60,416.07 C174.06,415.57 176.53,415.10 179.00,414.82 C181.46,414.55 183.94,414.41 186.40,414.40 C188.84,414.39 191.26,414.54 193.70,414.75 C196.16,414.96 199.06,415.13 201.10,415.68 C202.64,416.08 203.48,416.73 205.00,417.30 C207.06,418.08 209.96,418.89 212.40,419.80 C214.86,420.72 217.25,421.85 219.70,422.80 C222.15,423.75 224.62,424.70 227.10,425.52 C229.55,426.34 232.02,427.11 234.50,427.73 C236.95,428.33 239.43,428.86 241.90,429.20 C244.33,429.53 246.76,429.78 249.20,429.75 C251.66,429.72 254.15,429.45 256.60,429.03 C259.08,428.60 261.58,428.09 264.00,427.20 C266.52,426.27 269.05,425.11 271.40,423.50 C273.97,421.75 276.70,419.32 278.70,416.90 C280.58,414.63 282.00,412.26 283.20,409.50 C284.54,406.43 285.34,402.36 286.10,399.20 C286.74,396.54 287.13,394.13 287.60,391.80 C288.02,389.72 288.40,387.87 288.80,385.90 L288.40,503.90 C287.87,501.17 287.44,498.55 286.80,495.70 C286.10,492.57 285.35,489.21 284.30,485.90 C283.18,482.38 281.72,478.65 280.20,475.20 C278.71,471.82 277.07,468.26 275.30,465.40 C273.77,462.93 272.14,460.74 270.40,458.90 C268.85,457.27 267.23,455.79 265.50,454.80 C263.94,453.91 262.47,453.49 260.60,453.05 C258.24,452.49 255.14,452.22 252.40,452.05 C249.67,451.88 246.93,451.90 244.20,452.05 C241.46,452.20 238.72,452.51 236.00,452.95 C233.26,453.39 230.52,454.00 227.80,454.70 C225.05,455.41 222.31,456.24 219.60,457.20 C216.85,458.17 214.31,459.12 211.40,460.50 C207.86,462.18 203.67,465.49 200.00,466.80 C196.94,467.89 193.93,467.97 191.10,468.43 C188.52,468.83 186.16,469.27 183.70,469.42 C181.26,469.58 178.83,469.56 176.40,469.35 C173.93,469.14 171.46,468.64 169.00,468.15 C166.52,467.66 164.08,466.91 161.60,466.43 C159.14,465.94 156.67,465.41 154.20,465.22 C151.77,465.05 149.33,465.12 146.90,465.32 C144.43,465.54 141.91,465.75 139.50,466.50 C136.98,467.28 134.52,468.62 132.10,470.00 C129.58,471.44 127.14,473.26 124.70,475.00 C122.24,476.76 119.75,478.38 117.40,480.50 C114.83,482.82 112.58,485.44 110.00,488.50 C106.83,492.27 103.06,497.74 100.00,501.60 C97.52,504.73 95.46,507.01 93.10,510.00 C90.48,513.33 88.14,516.66 85.00,520.70 C80.79,526.11 74.47,533.79 70.00,539.50 C66.31,544.21 62.07,549.86 60.00,552.50 C59.09,553.66 58.91,553.84 58.00,555.00 C55.93,557.64 50.90,566.25 48.00,568.00 C46.56,568.87 45.33,568.47 44.00,568.70 Z" fill="url(#rhc)" stroke="none"/>
<path d="M43.50,315.30 L47.40,315.30 C50.37,319.60 53.31,323.87 56.30,328.20 C59.34,332.60 62.44,337.06 65.50,341.50 C68.57,345.96 71.66,350.39 74.70,354.90 C77.76,359.45 80.71,364.22 83.80,368.70 C86.82,373.08 89.86,377.45 93.00,381.50 C96.00,385.36 99.11,388.94 102.20,392.50 C105.21,395.97 108.22,399.51 111.30,402.60 C114.16,405.47 117.14,408.23 120.00,410.50 C122.50,412.48 124.89,414.11 127.40,415.60 C129.79,417.02 132.20,418.43 134.70,419.30 C137.10,420.14 139.62,420.53 142.10,420.80 C144.55,421.07 147.04,421.11 149.50,420.93 C151.97,420.74 154.45,420.21 156.90,419.70 C159.35,419.19 161.76,418.48 164.20,417.88 C166.66,417.27 169.12,416.58 171.60,416.07 C174.06,415.57 176.53,415.10 179.00,414.82 C181.46,414.55 183.94,414.41 186.40,414.40 C188.84,414.39 191.26,414.54 193.70,414.75 C196.16,414.96 199.06,415.13 201.10,415.68 C202.64,416.08 203.48,416.73 205.00,417.30 C207.06,418.08 209.96,418.89 212.40,419.80 C214.86,420.72 217.25,421.85 219.70,422.80 C222.15,423.75 224.62,424.70 227.10,425.52 C229.55,426.34 232.02,427.11 234.50,427.73 C236.95,428.33 239.43,428.86 241.90,429.20 C244.33,429.53 246.76,429.78 249.20,429.75 C251.66,429.72 254.15,429.45 256.60,429.03 C259.08,428.60 261.58,428.09 264.00,427.20 C266.52,426.27 269.05,425.11 271.40,423.50 C273.97,421.75 276.70,419.32 278.70,416.90 C280.58,414.63 282.00,412.26 283.20,409.50 C284.54,406.43 285.34,402.36 286.10,399.20 C286.74,396.54 287.13,394.13 287.60,391.80 C288.02,389.72 288.40,387.87 288.80,385.90" fill="none" stroke="#a00000" stroke-width="2.1" stroke-linejoin="round"/>
<path d="M44.00,568.70 C45.33,568.47 46.56,568.87 48.00,568.00 C50.90,566.25 55.93,557.64 58.00,555.00 C58.91,553.84 59.09,553.66 60.00,552.50 C62.07,549.86 66.31,544.21 70.00,539.50 C74.47,533.79 80.79,526.11 85.00,520.70 C88.14,516.66 90.48,513.33 93.10,510.00 C95.46,507.01 97.52,504.73 100.00,501.60 C103.06,497.74 106.83,492.27 110.00,488.50 C112.58,485.44 114.83,482.82 117.40,480.50 C119.75,478.38 122.24,476.76 124.70,475.00 C127.14,473.26 129.58,471.44 132.10,470.00 C134.52,468.62 136.98,467.28 139.50,466.50 C141.91,465.75 144.43,465.54 146.90,465.32 C149.33,465.12 151.77,465.05 154.20,465.22 C156.67,465.41 159.14,465.94 161.60,466.43 C164.08,466.91 166.52,467.66 169.00,468.15 C171.46,468.64 173.93,469.14 176.40,469.35 C178.83,469.56 181.26,469.58 183.70,469.42 C186.16,469.27 188.52,468.83 191.10,468.43 C193.93,467.97 196.94,467.89 200.00,466.80 C203.67,465.49 207.86,462.18 211.40,460.50 C214.31,459.12 216.85,458.17 219.60,457.20 C222.31,456.24 225.05,455.41 227.80,454.70 C230.52,454.00 233.26,453.39 236.00,452.95 C238.72,452.51 241.46,452.20 244.20,452.05 C246.93,451.90 249.67,451.88 252.40,452.05 C255.14,452.22 258.24,452.49 260.60,453.05 C262.47,453.49 263.94,453.91 265.50,454.80 C267.23,455.79 268.85,457.27 270.40,458.90 C272.14,460.74 273.77,462.93 275.30,465.40 C277.07,468.26 278.71,471.82 280.20,475.20 C281.72,478.65 283.18,482.38 284.30,485.90 C285.35,489.21 286.10,492.57 286.80,495.70 C287.44,498.55 287.87,501.17 288.40,503.90" fill="none" stroke="#a00000" stroke-width="2.1" stroke-linejoin="round"/>
<path d="M43.50,333.80 C45.33,336.07 47.02,338.21 49.00,340.60 C51.25,343.31 53.78,346.03 56.30,349.20 C59.24,352.89 62.44,357.38 65.50,361.50 C68.57,365.64 71.58,370.01 74.70,374.00 C77.69,377.83 80.69,381.53 83.80,385.00 C86.79,388.34 89.90,391.44 93.00,394.50 C96.03,397.50 99.07,400.53 102.20,403.20 C105.18,405.74 108.30,407.91 111.30,410.20 C114.23,412.44 117.17,414.87 120.00,416.80 C122.52,418.52 124.89,420.03 127.40,421.30 C129.79,422.51 132.22,423.58 134.70,424.30 C137.12,425.01 139.63,425.30 142.10,425.62 C144.56,425.95 147.03,426.16 149.50,426.25 C151.96,426.34 154.44,426.26 156.90,426.18 C159.34,426.09 161.76,425.88 164.20,425.73 C166.66,425.57 169.13,425.38 171.60,425.25 C174.07,425.13 176.53,425.02 179.00,424.98 C181.47,424.93 183.94,424.93 186.40,424.97 C188.84,425.02 191.26,425.11 193.70,425.23 C196.16,425.34 199.03,425.39 201.10,425.68 C202.62,425.89 203.49,426.22 205.00,426.52 C207.07,426.94 209.94,427.42 212.40,427.88 C214.84,428.33 217.25,428.86 219.70,429.27 C222.15,429.69 224.63,430.05 227.10,430.37 C229.56,430.70 232.03,430.99 234.50,431.23 C236.96,431.46 239.44,431.68 241.90,431.80 C244.34,431.92 246.76,432.01 249.20,431.92 C251.66,431.84 254.14,431.64 256.60,431.30 C259.08,430.96 261.60,430.78 264.00,429.90 C266.55,428.97 269.03,427.41 271.40,425.70 C273.95,423.86 276.70,421.52 278.70,419.10 C280.58,416.83 281.99,414.41 283.20,411.70 C284.50,408.78 285.34,405.11 286.10,402.10 C286.76,399.49 287.07,397.02 287.60,394.70 C288.08,392.62 288.60,390.77 289.10,388.80 L288.80,499.00 C288.13,495.73 287.59,492.30 286.80,489.20 C286.07,486.33 285.35,483.76 284.30,481.00 C283.18,478.03 281.72,474.89 280.20,472.00 C278.71,469.16 277.04,466.23 275.30,463.80 C273.75,461.63 272.11,459.70 270.40,458.00 C268.83,456.44 267.22,454.90 265.50,453.90 C263.94,452.99 262.47,452.53 260.60,452.08 C258.25,451.50 255.14,451.25 252.40,451.05 C249.67,450.85 246.93,450.85 244.20,450.88 C241.47,450.90 238.73,451.03 236.00,451.20 C233.26,451.37 230.53,451.60 227.80,451.88 C225.06,452.15 222.33,452.44 219.60,452.82 C216.86,453.21 214.36,453.76 211.40,454.20 C207.92,454.72 203.57,455.29 200.00,455.67 C196.85,456.01 193.93,456.26 191.10,456.43 C188.52,456.57 186.16,456.58 183.70,456.65 C181.26,456.72 178.84,456.78 176.40,456.85 C173.94,456.93 171.47,457.00 169.00,457.10 C166.53,457.20 164.07,457.32 161.60,457.48 C159.13,457.63 156.65,457.79 154.20,458.05 C151.75,458.31 149.33,458.58 146.90,459.02 C144.43,459.48 141.95,460.07 139.50,460.77 C137.02,461.49 134.52,462.21 132.10,463.30 C129.58,464.43 127.11,465.92 124.70,467.50 C122.20,469.14 119.90,471.03 117.40,473.00 C114.65,475.17 111.72,477.50 108.90,480.00 C105.92,482.64 103.04,485.53 100.00,488.50 C96.75,491.68 93.31,495.00 90.00,498.50 C86.54,502.15 83.05,506.14 79.70,510.00 C76.39,513.81 73.08,517.85 70.00,521.50 C67.20,524.82 64.63,527.88 62.00,531.00 C59.44,534.04 57.11,536.71 54.40,540.00 C51.18,543.92 47.47,548.67 44.00,553.00 Z" fill="url(#bhc)" stroke="none"/>
<path d="M43.50,333.80 C45.33,336.07 47.02,338.21 49.00,340.60 C51.25,343.31 53.78,346.03 56.30,349.20 C59.24,352.89 62.44,357.38 65.50,361.50 C68.57,365.64 71.58,370.01 74.70,374.00 C77.69,377.83 80.69,381.53 83.80,385.00 C86.79,388.34 89.90,391.44 93.00,394.50 C96.03,397.50 99.07,400.53 102.20,403.20 C105.18,405.74 108.30,407.91 111.30,410.20 C114.23,412.44 117.17,414.87 120.00,416.80 C122.52,418.52 124.89,420.03 127.40,421.30 C129.79,422.51 132.22,423.58 134.70,424.30 C137.12,425.01 139.63,425.30 142.10,425.62 C144.56,425.95 147.03,426.16 149.50,426.25 C151.96,426.34 154.44,426.26 156.90,426.18 C159.34,426.09 161.76,425.88 164.20,425.73 C166.66,425.57 169.13,425.38 171.60,425.25 C174.07,425.13 176.53,425.02 179.00,424.98 C181.47,424.93 183.94,424.93 186.40,424.97 C188.84,425.02 191.26,425.11 193.70,425.23 C196.16,425.34 199.03,425.39 201.10,425.68 C202.62,425.89 203.49,426.22 205.00,426.52 C207.07,426.94 209.94,427.42 212.40,427.88 C214.84,428.33 217.25,428.86 219.70,429.27 C222.15,429.69 224.63,430.05 227.10,430.37 C229.56,430.70 232.03,430.99 234.50,431.23 C236.96,431.46 239.44,431.68 241.90,431.80 C244.34,431.92 246.76,432.01 249.20,431.92 C251.66,431.84 254.14,431.64 256.60,431.30 C259.08,430.96 261.60,430.78 264.00,429.90 C266.55,428.97 269.03,427.41 271.40,425.70 C273.95,423.86 276.70,421.52 278.70,419.10 C280.58,416.83 281.99,414.41 283.20,411.70 C284.50,408.78 285.34,405.11 286.10,402.10 C286.76,399.49 287.07,397.02 287.60,394.70 C288.08,392.62 288.60,390.77 289.10,388.80" fill="none" stroke="#0000a0" stroke-width="2.1" stroke-linejoin="round"/>
<path d="M44.00,553.00 C47.47,548.67 51.18,543.92 54.40,540.00 C57.11,536.71 59.44,534.04 62.00,531.00 C64.63,527.88 67.20,524.82 70.00,521.50 C73.08,517.85 76.39,513.81 79.70,510.00 C83.05,506.14 86.54,502.15 90.00,498.50 C93.31,495.00 96.75,491.68 100.00,488.50 C103.04,485.53 105.92,482.64 108.90,480.00 C111.72,477.50 114.65,475.17 117.40,473.00 C119.90,471.03 122.20,469.14 124.70,467.50 C127.11,465.92 129.58,464.43 132.10,463.30 C134.52,462.21 137.02,461.49 139.50,460.77 C141.95,460.07 144.43,459.48 146.90,459.02 C149.33,458.58 151.75,458.31 154.20,458.05 C156.65,457.79 159.13,457.63 161.60,457.48 C164.07,457.32 166.53,457.20 169.00,457.10 C171.47,457.00 173.94,456.93 176.40,456.85 C178.84,456.78 181.26,456.72 183.70,456.65 C186.16,456.58 188.52,456.57 191.10,456.43 C193.93,456.26 196.85,456.01 200.00,455.67 C203.57,455.29 207.92,454.72 211.40,454.20 C214.36,453.76 216.86,453.21 219.60,452.82 C222.33,452.44 225.06,452.15 227.80,451.88 C230.53,451.60 233.26,451.37 236.00,451.20 C238.73,451.03 241.47,450.90 244.20,450.88 C246.93,450.85 249.67,450.85 252.40,451.05 C255.14,451.25 258.25,451.50 260.60,452.08 C262.47,452.53 263.94,452.99 265.50,453.90 C267.22,454.90 268.83,456.44 270.40,458.00 C272.11,459.70 273.75,461.63 275.30,463.80 C277.04,466.23 278.71,469.16 280.20,472.00 C281.72,474.89 283.18,478.03 284.30,481.00 C285.35,483.76 286.07,486.33 286.80,489.20 C287.59,492.30 288.13,495.73 288.80,499.00" fill="none" stroke="#0000a0" stroke-width="2.1" stroke-linejoin="round"/>
<line x1="43.5" y1="442" x2="288.8" y2="442" stroke="#0000a0" stroke-width="2.1"/>
</g>
<path d="M40.5,571.2 h7.7 M291.5,571.2 h-7.7 M40.5,558.28 h3.8 M291.5,558.28 h-3.8 M40.5,545.36 h3.8 M291.5,545.36 h-3.8 M40.5,532.44 h3.8 M291.5,532.44 h-3.8 M40.5,519.52 h3.8 M291.5,519.52 h-3.8 M40.5,506.6 h7.7 M291.5,506.6 h-7.7 M40.5,493.68 h3.8 M291.5,493.68 h-3.8 M40.5,480.76 h3.8 M291.5,480.76 h-3.8 M40.5,467.84 h3.8 M291.5,467.84 h-3.8 M40.5,454.92 h3.8 M291.5,454.92 h-3.8 M40.5,442 h7.7 M291.5,442 h-7.7 M40.5,429.08 h3.8 M291.5,429.08 h-3.8 M40.5,416.16 h3.8 M291.5,416.16 h-3.8 M40.5,403.24 h3.8 M291.5,403.24 h-3.8 M40.5,390.32 h3.8 M291.5,390.32 h-3.8 M40.5,377.4 h7.7 M291.5,377.4 h-7.7 M40.5,364.48 h3.8 M291.5,364.48 h-3.8 M40.5,351.56 h3.8 M291.5,351.56 h-3.8 M40.5,338.64 h3.8 M291.5,338.64 h-3.8 M40.5,325.72 h3.8 M291.5,325.72 h-3.8 M40.5,312.8 h7.7 M291.5,312.8 h-7.7 M40.5,571.2 v-7.7 M40.5,312.8 v7.7 M66.09,571.2 v-3.8 M66.09,312.8 v3.8 M81.06,571.2 v-3.8 M81.06,312.8 v3.8 M91.68,571.2 v-3.8 M91.68,312.8 v3.8 M99.91,571.2 v-3.8 M99.91,312.8 v3.8 M106.64,571.2 v-3.8 M106.64,312.8 v3.8 M112.33,571.2 v-3.8 M112.33,312.8 v3.8 M117.26,571.2 v-3.8 M117.26,312.8 v3.8 M121.61,571.2 v-3.8 M121.61,312.8 v3.8 M125.5,571.2 v-7.7 M125.5,312.8 v7.7 M151.09,571.2 v-3.8 M151.09,312.8 v3.8 M166.06,571.2 v-3.8 M166.06,312.8 v3.8 M176.68,571.2 v-3.8 M176.68,312.8 v3.8 M184.91,571.2 v-3.8 M184.91,312.8 v3.8 M191.64,571.2 v-3.8 M191.64,312.8 v3.8 M197.33,571.2 v-3.8 M197.33,312.8 v3.8 M202.26,571.2 v-3.8 M202.26,312.8 v3.8 M206.61,571.2 v-3.8 M206.61,312.8 v3.8 M210.5,571.2 v-7.7 M210.5,312.8 v7.7 M236.09,571.2 v-3.8 M236.09,312.8 v3.8 M251.06,571.2 v-3.8 M251.06,312.8 v3.8 M261.68,571.2 v-3.8 M261.68,312.8 v3.8 M269.91,571.2 v-3.8 M269.91,312.8 v3.8 M276.64,571.2 v-3.8 M276.64,312.8 v3.8 M282.33,571.2 v-3.8 M282.33,312.8 v3.8 M287.26,571.2 v-3.8 M287.26,312.8 v3.8" stroke="#000" stroke-width="1.3" fill="none"/>
<rect x="40.5" y="312.8" width="251" height="258.4" fill="none" stroke="#000" stroke-width="1.3"/>
<text x="38.7" y="576.1" class="tl" text-anchor="end">0.8</text>
<text x="38.7" y="511.5" class="tl" text-anchor="end">0.9</text>
<text x="38.7" y="446.9" class="tl" text-anchor="end">1</text>
<text x="38.7" y="382.3" class="tl" text-anchor="end">1.1</text>
<text x="38.7" y="317.7" class="tl" text-anchor="end">1.2</text>
<text x="40.5" y="587.7" class="tl" text-anchor="middle">10<tspan class="sup" dy="-5.5">-3</tspan></text>
<text x="125.5" y="587.7" class="tl" text-anchor="middle">10<tspan class="sup" dy="-5.5">-2</tspan></text>
<text x="210.5" y="587.7" class="tl" text-anchor="middle">10<tspan class="sup" dy="-5.5">-1</tspan></text>
<text x="274" y="595.4" class="xt">x</text>
<text class="yt" transform="translate(10.6,360.6) rotate(-90)">&#948;xu<tspan class="sub" dy="3.2">V</tspan><tspan dy="-3.2">/xu</tspan><tspan class="sub" dy="3.2">V</tspan></text>
<text x="118.4" y="332.2" class="lg">Q<tspan class="sup2" dy="-5.9">2</tspan><tspan dy="5.9"> = 1.9 GeV</tspan><tspan class="sup2" dy="-5.9">2</tspan></text>
<text x="117.6" y="346.2" class="lg">CT14</text>
<text x="117.6" y="360.6" class="lg">CT14 profiled</text>
<clipPath id="lrc"><rect x="100" y="338.3" width="14.5" height="9.7"/></clipPath>
<rect x="100" y="338.3" width="14.5" height="9.7" fill="url(#rhc)" />
<line x1="100" y1="343.1" x2="114.5" y2="343.1" stroke="#a00000" stroke-width="2.1"/>
<rect x="100" y="352.8" width="14.5" height="9.7" fill="url(#bhc)" />
<line x1="100" y1="357.6" x2="114.5" y2="357.6" stroke="#0000a0" stroke-width="2.1"/>
<text x="144.3" y="562.3" class="atlas">ATLAS</text>
<clipPath id="cd"><rect x="358.5" y="312.8" width="251" height="258.4"/></clipPath>
<pattern id="rhd" patternUnits="userSpaceOnUse" width="8" height="8" x="0.9" y="0"><path d="M-2,2 L2,-2 M0,8 L8,0 M6,10 L10,6" stroke="#a00000" stroke-width="1.8"/></pattern>
<pattern id="bhd" patternUnits="userSpaceOnUse" width="8" height="8" x="0" y="2.5"><path d="M-2,6 L2,10 M0,0 L8,8 M6,-2 L10,2" stroke="#0000a0" stroke-width="2.0"/></pattern>
<g clip-path="url(#cd)">
<path d="M361.80,344.20 C363.20,345.57 364.49,346.63 366.00,348.30 C368.04,350.55 370.33,353.79 372.70,356.70 C375.30,359.90 378.23,363.37 381.00,366.70 C383.77,370.03 386.52,373.37 389.30,376.70 C392.09,380.04 394.84,383.58 397.70,386.70 C400.41,389.66 403.12,392.59 406.00,395.00 C408.67,397.24 411.46,399.11 414.30,400.80 C417.03,402.43 419.85,403.93 422.70,405.00 C425.42,406.02 428.16,406.57 431.00,407.15 C433.92,407.75 437.14,408.14 440.00,408.52 C442.58,408.88 444.94,409.12 447.40,409.40 C449.84,409.67 452.26,409.93 454.70,410.17 C457.16,410.42 459.63,410.67 462.10,410.85 C464.57,411.03 467.03,411.20 469.50,411.27 C471.97,411.35 474.44,411.38 476.90,411.27 C479.34,411.17 481.77,411.00 484.20,410.67 C486.67,410.35 489.06,409.84 491.60,409.30 C494.32,408.72 497.12,408.16 500.00,407.30 C503.17,406.36 506.48,404.58 509.80,403.80 C513.05,403.04 516.59,402.66 519.70,402.62 C522.45,402.59 525.01,402.84 527.50,403.37 C529.90,403.89 532.32,404.86 534.40,405.70 C536.20,406.42 537.64,407.38 539.30,408.00 C540.91,408.60 542.55,409.04 544.20,409.38 C545.85,409.71 547.47,409.86 549.20,410.00 C551.06,410.15 552.90,410.13 555.00,410.20 C557.50,410.29 560.47,410.28 563.20,410.50 C565.94,410.72 569.14,411.12 571.40,411.52 C573.01,411.81 574.20,412.42 575.50,412.48 C576.65,412.53 577.79,412.41 578.80,412.03 C579.79,411.65 580.67,410.91 581.50,410.23 C582.34,409.54 583.09,408.71 583.80,407.90 C584.49,407.10 585.08,406.64 585.70,405.40 C586.98,402.85 588.33,396.90 589.40,392.60 C590.46,388.33 591.25,384.39 592.10,379.70 C593.11,374.14 594.03,367.92 594.90,361.40 C595.89,353.97 596.82,345.32 597.60,337.50 C598.35,329.97 598.87,322.70 599.50,315.30 L607.30,315.30 L606.60,568.70 L598.80,568.70 C598.13,563.47 597.58,558.48 596.80,553.00 C595.94,546.96 594.80,540.57 593.80,534.00 C592.73,526.94 591.75,518.70 590.60,512.00 C589.63,506.31 588.66,501.21 587.50,496.30 C586.46,491.90 585.72,487.60 584.10,483.90 C582.63,480.54 580.62,477.59 578.50,474.90 C576.49,472.35 574.18,469.91 571.80,468.10 C569.65,466.46 567.65,465.01 565.00,464.30 C561.82,463.45 557.54,464.26 553.80,464.12 C550.04,463.99 546.05,463.79 542.50,463.50 C539.33,463.24 536.28,462.78 533.50,462.55 C531.10,462.35 529.04,462.09 526.80,462.12 C524.54,462.17 522.26,462.01 520.00,462.80 C517.33,463.74 514.70,466.30 512.00,468.00 C509.30,469.70 506.59,471.57 503.80,473.00 C501.12,474.38 498.20,475.65 495.60,476.50 C493.37,477.23 491.58,477.55 489.20,478.00 C486.27,478.56 482.59,478.95 479.30,479.45 C476.02,479.94 472.76,480.43 469.50,480.98 C466.23,481.53 462.39,481.96 459.70,482.75 C457.72,483.33 456.32,484.06 454.70,484.82 C453.09,485.58 451.49,486.42 450.00,487.30 C448.56,488.15 447.37,488.96 445.90,490.00 C444.09,491.28 442.16,492.63 440.00,494.50 C437.03,497.07 433.45,500.55 430.00,504.30 C425.84,508.83 420.79,515.34 417.00,520.00 C413.99,523.69 411.60,526.65 409.00,530.00 C406.43,533.31 404.14,536.66 401.50,540.00 C398.75,543.49 395.60,547.02 392.80,550.50 C390.10,553.85 387.50,557.60 385.00,560.50 C382.93,562.90 380.76,565.52 379.00,566.80 C377.91,567.59 377.42,567.88 376.00,568.23 C373.09,568.93 366.67,568.54 362.00,568.70 Z" fill="url(#rhd)" stroke="none"/>
<path d="M361.80,344.20 C363.20,345.57 364.49,346.63 366.00,348.30 C368.04,350.55 370.33,353.79 372.70,356.70 C375.30,359.90 378.23,363.37 381.00,366.70 C383.77,370.03 386.52,373.37 389.30,376.70 C392.09,380.04 394.84,383.58 397.70,386.70 C400.41,389.66 403.12,392.59 406.00,395.00 C408.67,397.24 411.46,399.11 414.30,400.80 C417.03,402.43 419.85,403.93 422.70,405.00 C425.42,406.02 428.16,406.57 431.00,407.15 C433.92,407.75 437.14,408.14 440.00,408.52 C442.58,408.88 444.94,409.12 447.40,409.40 C449.84,409.67 452.26,409.93 454.70,410.17 C457.16,410.42 459.63,410.67 462.10,410.85 C464.57,411.03 467.03,411.20 469.50,411.27 C471.97,411.35 474.44,411.38 476.90,411.27 C479.34,411.17 481.77,411.00 484.20,410.67 C486.67,410.35 489.06,409.84 491.60,409.30 C494.32,408.72 497.12,408.16 500.00,407.30 C503.17,406.36 506.48,404.58 509.80,403.80 C513.05,403.04 516.59,402.66 519.70,402.62 C522.45,402.59 525.01,402.84 527.50,403.37 C529.90,403.89 532.32,404.86 534.40,405.70 C536.20,406.42 537.64,407.38 539.30,408.00 C540.91,408.60 542.55,409.04 544.20,409.38 C545.85,409.71 547.47,409.86 549.20,410.00 C551.06,410.15 552.90,410.13 555.00,410.20 C557.50,410.29 560.47,410.28 563.20,410.50 C565.94,410.72 569.14,411.12 571.40,411.52 C573.01,411.81 574.20,412.42 575.50,412.48 C576.65,412.53 577.79,412.41 578.80,412.03 C579.79,411.65 580.67,410.91 581.50,410.23 C582.34,409.54 583.09,408.71 583.80,407.90 C584.49,407.10 585.08,406.64 585.70,405.40 C586.98,402.85 588.33,396.90 589.40,392.60 C590.46,388.33 591.25,384.39 592.10,379.70 C593.11,374.14 594.03,367.92 594.90,361.40 C595.89,353.97 596.82,345.32 597.60,337.50 C598.35,329.97 598.87,322.70 599.50,315.30 L607.30,315.30" fill="none" stroke="#a00000" stroke-width="2.1" stroke-linejoin="round"/>
<path d="M362.00,568.70 C366.67,568.54 373.09,568.93 376.00,568.23 C377.42,567.88 377.91,567.59 379.00,566.80 C380.76,565.52 382.93,562.90 385.00,560.50 C387.50,557.60 390.10,553.85 392.80,550.50 C395.60,547.02 398.75,543.49 401.50,540.00 C404.14,536.66 406.43,533.31 409.00,530.00 C411.60,526.65 413.99,523.69 417.00,520.00 C420.79,515.34 425.84,508.83 430.00,504.30 C433.45,500.55 437.03,497.07 440.00,494.50 C442.16,492.63 444.09,491.28 445.90,490.00 C447.37,488.96 448.56,488.15 450.00,487.30 C451.49,486.42 453.09,485.58 454.70,484.82 C456.32,484.06 457.72,483.33 459.70,482.75 C462.39,481.96 466.23,481.53 469.50,480.98 C472.76,480.43 476.02,479.94 479.30,479.45 C482.59,478.95 486.27,478.56 489.20,478.00 C491.58,477.55 493.37,477.23 495.60,476.50 C498.20,475.65 501.12,474.38 503.80,473.00 C506.59,471.57 509.30,469.70 512.00,468.00 C514.70,466.30 517.33,463.74 520.00,462.80 C522.26,462.01 524.54,462.17 526.80,462.12 C529.04,462.09 531.10,462.35 533.50,462.55 C536.28,462.78 539.33,463.24 542.50,463.50 C546.05,463.79 550.04,463.99 553.80,464.12 C557.54,464.26 561.82,463.45 565.00,464.30 C567.65,465.01 569.65,466.46 571.80,468.10 C574.18,469.91 576.49,472.35 578.50,474.90 C580.62,477.59 582.63,480.54 584.10,483.90 C585.72,487.60 586.46,491.90 587.50,496.30 C588.66,501.21 589.63,506.31 590.60,512.00 C591.75,518.70 592.73,526.94 593.80,534.00 C594.80,540.57 595.94,546.96 596.80,553.00 C597.58,558.48 598.13,563.47 598.80,568.70 L606.60,568.70" fill="none" stroke="#a00000" stroke-width="2.1" stroke-linejoin="round"/>
<path d="M361.80,353.30 C363.20,354.70 364.46,355.87 366.00,357.50 C368.00,359.62 370.31,362.47 372.70,365.00 C375.28,367.73 378.27,370.43 381.00,373.30 C383.81,376.25 386.52,379.44 389.30,382.50 C392.09,385.57 394.84,388.85 397.70,391.70 C400.41,394.40 403.13,397.07 406.00,399.20 C408.67,401.18 411.46,402.80 414.30,404.20 C417.04,405.55 419.91,406.40 422.70,407.50 C425.48,408.60 428.15,409.83 431.00,410.80 C433.91,411.79 437.14,412.58 440.00,413.35 C442.58,414.04 444.93,414.72 447.40,415.23 C449.83,415.72 452.25,416.06 454.70,416.35 C457.15,416.64 459.63,416.80 462.10,416.95 C464.57,417.10 467.03,417.20 469.50,417.22 C471.97,417.25 474.44,417.23 476.90,417.10 C479.34,416.97 481.76,416.73 484.20,416.42 C486.66,416.12 489.06,415.72 491.60,415.25 C494.32,414.75 497.09,414.07 500.00,413.50 C503.14,412.89 506.51,412.08 509.80,411.70 C513.08,411.32 516.41,411.10 519.70,411.20 C522.98,411.30 526.83,411.68 529.50,412.32 C531.45,412.80 532.76,413.57 534.40,414.17 C536.03,414.78 537.66,415.44 539.30,415.95 C540.92,416.46 542.55,416.93 544.20,417.25 C545.85,417.57 547.47,417.76 549.20,417.88 C551.06,418.00 552.90,417.94 555.00,417.93 C557.50,417.91 560.47,417.81 563.20,417.73 C565.93,417.64 569.02,417.58 571.40,417.40 C573.25,417.26 574.92,417.17 576.30,416.85 C577.35,416.61 578.19,416.30 579.00,415.90 C579.74,415.54 580.34,415.24 581.00,414.60 C581.95,413.67 582.91,411.97 583.80,410.50 C584.76,408.92 585.64,407.54 586.50,405.40 C587.81,402.15 589.13,396.90 590.20,392.60 C591.26,388.33 592.05,384.39 592.90,379.70 C593.91,374.14 594.83,367.92 595.70,361.40 C596.69,353.97 597.62,345.32 598.40,337.50 C599.15,329.97 599.67,322.70 600.30,315.30 L607.30,315.30 L606.60,568.70 L599.70,568.70 C599.07,563.13 598.56,557.75 597.80,552.00 C596.98,545.82 595.93,539.61 594.90,532.80 C593.72,525.04 592.48,515.65 591.10,507.90 C589.89,501.07 588.70,493.50 587.20,488.70 C586.25,485.66 585.16,483.56 584.10,481.50 C583.25,479.85 582.37,478.75 581.50,477.20 C580.51,475.45 579.88,473.37 578.50,471.50 C576.83,469.23 574.19,466.52 571.80,464.80 C569.66,463.26 567.63,462.11 565.00,461.40 C561.80,460.53 557.54,460.91 553.80,460.65 C550.04,460.39 546.26,460.04 542.50,459.85 C538.76,459.66 535.04,459.40 531.30,459.50 C527.54,459.60 523.41,459.84 520.00,460.48 C517.07,461.02 514.93,461.90 512.00,462.80 C508.40,463.91 503.92,465.68 500.00,466.70 C496.33,467.65 492.73,468.25 489.20,468.82 C485.84,469.37 482.60,469.74 479.30,470.10 C476.03,470.46 472.76,470.63 469.50,470.98 C466.23,471.32 462.40,471.54 459.70,472.15 C457.73,472.60 456.34,473.20 454.70,473.85 C453.04,474.51 451.39,475.19 449.80,476.10 C448.12,477.06 446.51,478.30 444.90,479.50 C443.25,480.73 441.89,481.78 440.00,483.40 C437.22,485.80 433.27,489.42 430.00,492.70 C426.60,496.11 423.33,499.90 420.00,503.50 C416.67,507.10 413.33,510.69 410.00,514.30 C406.66,517.92 403.52,521.25 400.00,525.20 C395.92,529.78 390.89,535.76 387.00,540.20 C383.88,543.76 381.34,546.61 378.50,549.80 C375.67,552.98 372.79,556.17 370.00,559.30 C367.29,562.34 364.67,565.30 362.00,568.30 Z" fill="url(#bhd)" stroke="none"/>
<path d="M361.80,353.30 C363.20,354.70 364.46,355.87 366.00,357.50 C368.00,359.62 370.31,362.47 372.70,365.00 C375.28,367.73 378.27,370.43 381.00,373.30 C383.81,376.25 386.52,379.44 389.30,382.50 C392.09,385.57 394.84,388.85 397.70,391.70 C400.41,394.40 403.13,397.07 406.00,399.20 C408.67,401.18 411.46,402.80 414.30,404.20 C417.04,405.55 419.91,406.40 422.70,407.50 C425.48,408.60 428.15,409.83 431.00,410.80 C433.91,411.79 437.14,412.58 440.00,413.35 C442.58,414.04 444.93,414.72 447.40,415.23 C449.83,415.72 452.25,416.06 454.70,416.35 C457.15,416.64 459.63,416.80 462.10,416.95 C464.57,417.10 467.03,417.20 469.50,417.22 C471.97,417.25 474.44,417.23 476.90,417.10 C479.34,416.97 481.76,416.73 484.20,416.42 C486.66,416.12 489.06,415.72 491.60,415.25 C494.32,414.75 497.09,414.07 500.00,413.50 C503.14,412.89 506.51,412.08 509.80,411.70 C513.08,411.32 516.41,411.10 519.70,411.20 C522.98,411.30 526.83,411.68 529.50,412.32 C531.45,412.80 532.76,413.57 534.40,414.17 C536.03,414.78 537.66,415.44 539.30,415.95 C540.92,416.46 542.55,416.93 544.20,417.25 C545.85,417.57 547.47,417.76 549.20,417.88 C551.06,418.00 552.90,417.94 555.00,417.93 C557.50,417.91 560.47,417.81 563.20,417.73 C565.93,417.64 569.02,417.58 571.40,417.40 C573.25,417.26 574.92,417.17 576.30,416.85 C577.35,416.61 578.19,416.30 579.00,415.90 C579.74,415.54 580.34,415.24 581.00,414.60 C581.95,413.67 582.91,411.97 583.80,410.50 C584.76,408.92 585.64,407.54 586.50,405.40 C587.81,402.15 589.13,396.90 590.20,392.60 C591.26,388.33 592.05,384.39 592.90,379.70 C593.91,374.14 594.83,367.92 595.70,361.40 C596.69,353.97 597.62,345.32 598.40,337.50 C599.15,329.97 599.67,322.70 600.30,315.30 L607.30,315.30" fill="none" stroke="#0000a0" stroke-width="2.1" stroke-linejoin="round"/>
<path d="M362.00,568.30 C364.67,565.30 367.29,562.34 370.00,559.30 C372.79,556.17 375.67,552.98 378.50,549.80 C381.34,546.61 383.88,543.76 387.00,540.20 C390.89,535.76 395.92,529.78 400.00,525.20 C403.52,521.25 406.66,517.92 410.00,514.30 C413.33,510.69 416.67,507.10 420.00,503.50 C423.33,499.90 426.60,496.11 430.00,492.70 C433.27,489.42 437.22,485.80 440.00,483.40 C441.89,481.78 443.25,480.73 444.90,479.50 C446.51,478.30 448.12,477.06 449.80,476.10 C451.39,475.19 453.04,474.51 454.70,473.85 C456.34,473.20 457.73,472.60 459.70,472.15 C462.40,471.54 466.23,471.32 469.50,470.98 C472.76,470.63 476.03,470.46 479.30,470.10 C482.60,469.74 485.84,469.37 489.20,468.82 C492.73,468.25 496.33,467.65 500.00,466.70 C503.92,465.68 508.40,463.91 512.00,462.80 C514.93,461.90 517.07,461.02 520.00,460.48 C523.41,459.84 527.54,459.60 531.30,459.50 C535.04,459.40 538.76,459.66 542.50,459.85 C546.26,460.04 550.04,460.39 553.80,460.65 C557.54,460.91 561.80,460.53 565.00,461.40 C567.63,462.11 569.66,463.26 571.80,464.80 C574.19,466.52 576.83,469.23 578.50,471.50 C579.88,473.37 580.51,475.45 581.50,477.20 C582.37,478.75 583.25,479.85 584.10,481.50 C585.16,483.56 586.25,485.66 587.20,488.70 C588.70,493.50 589.89,501.07 591.10,507.90 C592.48,515.65 593.72,525.04 594.90,532.80 C595.93,539.61 596.98,545.82 597.80,552.00 C598.56,557.75 599.07,563.13 599.70,568.70 L606.60,568.70" fill="none" stroke="#0000a0" stroke-width="2.1" stroke-linejoin="round"/>
<line x1="361.8" y1="442" x2="607.3" y2="442" stroke="#0000a0" stroke-width="2.1"/>
</g>
<path d="M358.5,571.2 h7.7 M609.5,571.2 h-7.7 M358.5,558.28 h3.8 M609.5,558.28 h-3.8 M358.5,545.36 h3.8 M609.5,545.36 h-3.8 M358.5,532.44 h3.8 M609.5,532.44 h-3.8 M358.5,519.52 h3.8 M609.5,519.52 h-3.8 M358.5,506.6 h7.7 M609.5,506.6 h-7.7 M358.5,493.68 h3.8 M609.5,493.68 h-3.8 M358.5,480.76 h3.8 M609.5,480.76 h-3.8 M358.5,467.84 h3.8 M609.5,467.84 h-3.8 M358.5,454.92 h3.8 M609.5,454.92 h-3.8 M358.5,442 h7.7 M609.5,442 h-7.7 M358.5,429.08 h3.8 M609.5,429.08 h-3.8 M358.5,416.16 h3.8 M609.5,416.16 h-3.8 M358.5,403.24 h3.8 M609.5,403.24 h-3.8 M358.5,390.32 h3.8 M609.5,390.32 h-3.8 M358.5,377.4 h7.7 M609.5,377.4 h-7.7 M358.5,364.48 h3.8 M609.5,364.48 h-3.8 M358.5,351.56 h3.8 M609.5,351.56 h-3.8 M358.5,338.64 h3.8 M609.5,338.64 h-3.8 M358.5,325.72 h3.8 M609.5,325.72 h-3.8 M358.5,312.8 h7.7 M609.5,312.8 h-7.7 M358.5,571.2 v-7.7 M358.5,312.8 v7.7 M384.09,571.2 v-3.8 M384.09,312.8 v3.8 M399.06,571.2 v-3.8 M399.06,312.8 v3.8 M409.68,571.2 v-3.8 M409.68,312.8 v3.8 M417.91,571.2 v-3.8 M417.91,312.8 v3.8 M424.64,571.2 v-3.8 M424.64,312.8 v3.8 M430.33,571.2 v-3.8 M430.33,312.8 v3.8 M435.26,571.2 v-3.8 M435.26,312.8 v3.8 M439.61,571.2 v-3.8 M439.61,312.8 v3.8 M443.5,571.2 v-7.7 M443.5,312.8 v7.7 M469.09,571.2 v-3.8 M469.09,312.8 v3.8 M484.06,571.2 v-3.8 M484.06,312.8 v3.8 M494.68,571.2 v-3.8 M494.68,312.8 v3.8 M502.91,571.2 v-3.8 M502.91,312.8 v3.8 M509.64,571.2 v-3.8 M509.64,312.8 v3.8 M515.33,571.2 v-3.8 M515.33,312.8 v3.8 M520.26,571.2 v-3.8 M520.26,312.8 v3.8 M524.61,571.2 v-3.8 M524.61,312.8 v3.8 M528.5,571.2 v-7.7 M528.5,312.8 v7.7 M554.09,571.2 v-3.8 M554.09,312.8 v3.8 M569.06,571.2 v-3.8 M569.06,312.8 v3.8 M579.68,571.2 v-3.8 M579.68,312.8 v3.8 M587.91,571.2 v-3.8 M587.91,312.8 v3.8 M594.64,571.2 v-3.8 M594.64,312.8 v3.8 M600.33,571.2 v-3.8 M600.33,312.8 v3.8 M605.26,571.2 v-3.8 M605.26,312.8 v3.8" stroke="#000" stroke-width="1.3" fill="none"/>
<rect x="358.5" y="312.8" width="251" height="258.4" fill="none" stroke="#000" stroke-width="1.3"/>
<text x="356.7" y="576.1" class="tl" text-anchor="end">0.8</text>
<text x="356.7" y="511.5" class="tl" text-anchor="end">0.9</text>
<text x="356.7" y="446.9" class="tl" text-anchor="end">1</text>
<text x="356.7" y="382.3" class="tl" text-anchor="end">1.1</text>
<text x="356.7" y="317.7" class="tl" text-anchor="end">1.2</text>
<text x="358.5" y="587.7" class="tl" text-anchor="middle">10<tspan class="sup" dy="-5.5">-3</tspan></text>
<text x="443.5" y="587.7" class="tl" text-anchor="middle">10<tspan class="sup" dy="-5.5">-2</tspan></text>
<text x="528.5" y="587.7" class="tl" text-anchor="middle">10<tspan class="sup" dy="-5.5">-1</tspan></text>
<text x="592" y="595.4" class="xt">x</text>
<text class="yt" transform="translate(328.6,360.6) rotate(-90)">&#948;xd<tspan class="sub" dy="3.2">V</tspan><tspan dy="-3.2">/xd</tspan><tspan class="sub" dy="3.2">V</tspan></text>
<text x="436.4" y="332.2" class="lg">Q<tspan class="sup2" dy="-5.9">2</tspan><tspan dy="5.9"> = 1.9 GeV</tspan><tspan class="sup2" dy="-5.9">2</tspan></text>
<text x="435.6" y="346.2" class="lg">CT14</text>
<text x="435.6" y="360.6" class="lg">CT14 profiled</text>
<clipPath id="lrd"><rect x="418" y="338.3" width="14.5" height="9.7"/></clipPath>
<rect x="418" y="338.3" width="14.5" height="9.7" fill="url(#rhd)" />
<line x1="418" y1="343.1" x2="432.5" y2="343.1" stroke="#a00000" stroke-width="2.1"/>
<rect x="418" y="352.8" width="14.5" height="9.7" fill="url(#bhd)" />
<line x1="418" y1="357.6" x2="432.5" y2="357.6" stroke="#0000a0" stroke-width="2.1"/>
<text x="462.3" y="562.3" class="atlas">ATLAS</text>
</svg>
</body></html>
